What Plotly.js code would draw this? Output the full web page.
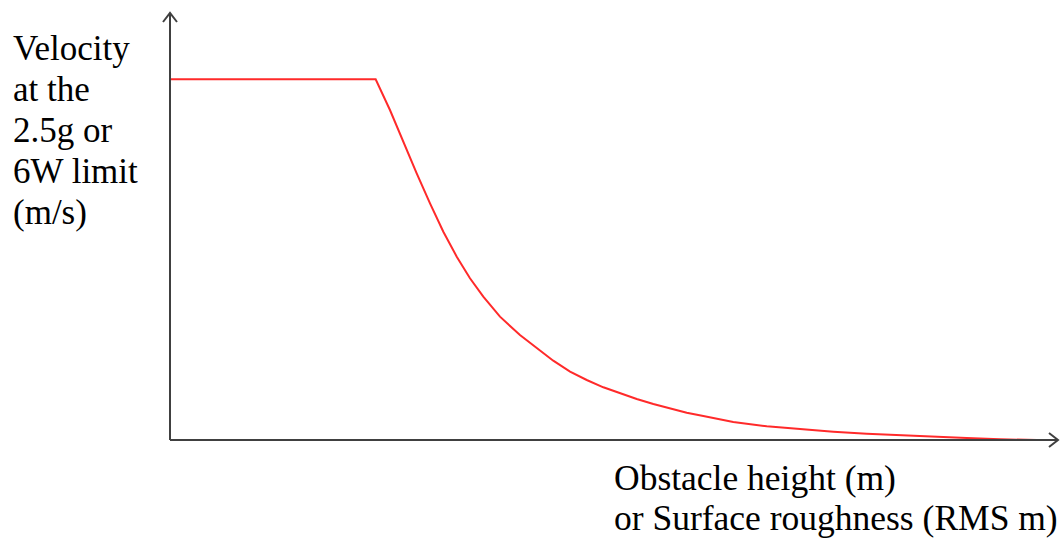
<!DOCTYPE html>
<html>
<head>
<meta charset="utf-8">
<script src="https://cdn.plot.ly/plotly-3.0.1.min.js"></script>
<style>html,body{margin:0;padding:0;background:#fff;}#chart{width:1060px;height:538px;}</style>
</head>
<body>
<div id="chart"></div>
<script>
// Obstacle height / surface roughness (arbitrary units, no scale on axes)
var obstacleHeight = [0, 2.316, 2.477, 2.627, 2.778, 2.928, 3.078, 3.229, 3.378, 3.528, 3.716, 3.941, 4.129, 4.316, 4.505,
  4.693, 4.880, 5.068, 5.256, 5.443, 5.631, 5.819, 6.006, 6.343, 6.720, 7.095, 7.470, 7.846, 8.221, 8.596, 8.972, 9.347, 9.760];
// Velocity at the 2.5g or 6W limit (arbitrary units)
var velocityLimit = [8.447, 8.447, 7.728, 6.986, 6.246, 5.543, 4.878, 4.293, 3.787, 3.356, 2.888, 2.459, 2.147, 1.857, 1.600,
  1.405, 1.234, 1.094, 0.960, 0.843, 0.733, 0.639, 0.562, 0.422, 0.320, 0.251, 0.194, 0.148, 0.110, 0.077, 0.047, 0.016, 0.0];

var yTitleLines = ['Velocity', 'at the', '2.5g or', '6W limit', '(m/s)'];
var xTitleLines = ['Obstacle height (m)', 'or Surface roughness (RMS m)'];

var W = 1060, H = 538;
var mL = 170, mR = 2, mT = 13, mB = 98;
var pw = W - mL - mR, ph = H - mT - mB;
function px(v){ return v / pw; }
function py(v){ return v / ph; }
function paperX(pix){ return (pix - mL) / pw; }
function paperY(pix){ return (mT + ph - pix) / ph; }

var axisColor = '#404040';
var serif = 'Liberation Serif, Times New Roman, serif';

var trace = {
  x: obstacleHeight,
  y: velocityLimit,
  type: 'scatter',
  mode: 'lines',
  line: {color: '#ff2a2a', width: 2},
  hoverinfo: 'skip',
  showlegend: false
};

var shapes = [
  {type:'line', xref:'paper', yref:'paper', x0:0, y0:0, x1:0, y1:1, line:{color:axisColor, width:2}},
  {type:'line', xref:'paper', yref:'paper', x0:0, y0:0, x1:1, y1:0, line:{color:axisColor, width:2}},
  {type:'path', xref:'paper', yref:'paper',
   path:'M ' + (-px(7)) + ' ' + (1 - py(9)) + ' L 0 1 L ' + px(7) + ' ' + (1 - py(9)),
   line:{color:axisColor, width:2}},
  {type:'path', xref:'paper', yref:'paper',
   path:'M ' + (1 - px(9)) + ' ' + py(7) + ' L 1 0 L ' + (1 - px(9)) + ' ' + (-py(7)),
   line:{color:axisColor, width:2}}
];

var annotations = [];
var yTops = [27, 68, 109, 150, 191];
yTitleLines.forEach(function(t, i){
  annotations.push({xref:'paper', yref:'paper', x: paperX(11), y: paperY(yTops[i]),
    xanchor:'left', yanchor:'top', text: t, align:'left', showarrow:false,
    font:{family:serif, size:35, color:'#000'}});
});
var xTops = [456.5, 495.5];
xTitleLines.forEach(function(t, i){
  annotations.push({xref:'paper', yref:'paper', x: paperX(612), y: paperY(xTops[i]),
    xanchor:'left', yanchor:'top', text: t, align:'left', showarrow:false,
    font:{family:serif, size:35.5, color:'#000'}});
});

var layout = {
  width: W, height: H,
  margin: {l: mL, r: mR, t: mT, b: mB, pad: 0},
  paper_bgcolor: '#ffffff',
  plot_bgcolor: '#ffffff',
  showlegend: false,
  xaxis: {range: [0, 10], showgrid:false, zeroline:false, showline:false, showticklabels:false, ticks:'', fixedrange:true},
  yaxis: {range: [0, 10], showgrid:false, zeroline:false, showline:false, showticklabels:false, ticks:'', fixedrange:true},
  shapes: shapes,
  annotations: annotations
};

Plotly.newPlot('chart', [trace], layout, {displayModeBar:false, staticPlot:true});
</script>
</body>
</html>
